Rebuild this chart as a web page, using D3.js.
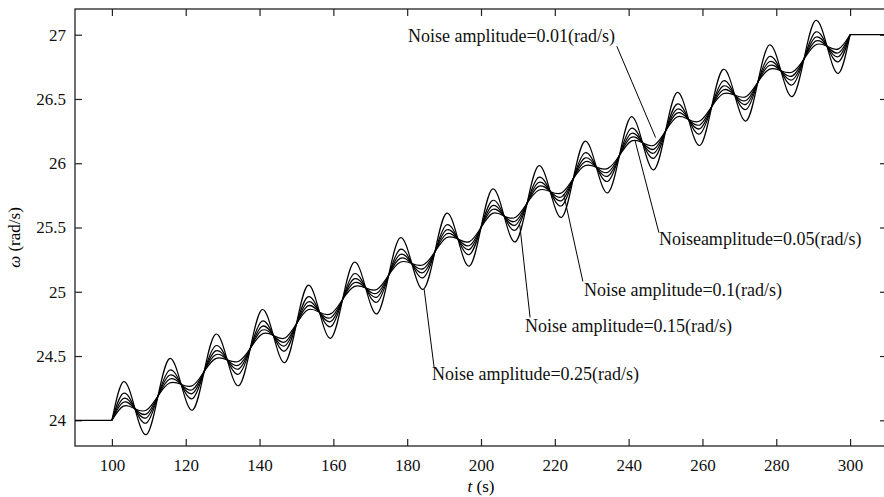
<!DOCTYPE html>
<html>
<head>
<meta charset="utf-8">
<script src="https://d3js.org/d3.v7.min.js"></script>
<style>
  body { margin: 0; background: #fff; }
  svg { display: block; font-family: "Liberation Serif", "Times New Roman", serif; }
</style>
</head>
<body>
<div id="chart"></div>
<script>
// --- data ---
// times where every curve crosses the reference ramp, and ramp values there
var crossT = [100, 106.25, 112.5, 118.75, 125, 131.25, 137.5, 143.75, 150, 156.25, 162.5,
              168.75, 175, 181.25, 187.5, 193.75, 200, 206.25, 212.5, 218.75, 225, 231.25,
              237.5, 243.75, 250, 256.25, 262.5, 268.75, 275, 281.25, 287.5, 293.75, 300];
var crossW = [24.00, 24.09, 24.19, 24.28, 24.38, 24.47, 24.56, 24.66, 24.75, 24.84, 24.94,
              25.03, 25.13, 25.22, 25.31, 25.41, 25.50, 25.59, 25.69, 25.78, 25.88, 25.97,
              26.06, 26.16, 26.25, 26.34, 26.44, 26.53, 26.63, 26.72, 26.81, 26.91, 27.00];
// times of the maxima and minima
var peakT   = [103.1, 115.6, 128.1, 140.6, 153.1, 165.6, 178.1, 190.6, 203.1, 215.6, 228.1, 240.6, 253.1, 265.6, 278.1, 290.6];
var troughT = [109.4, 121.9, 134.4, 146.9, 159.4, 171.9, 184.4, 196.9, 209.4, 221.9, 234.4, 246.9, 259.4, 271.9, 284.4, 296.9];

// flat parts before and after the ramp
var holdBefore = [[90, 24], [100, 24]];
var holdAfter  = [[300, 27], [310, 27]];

// maxima / minima of each of the five curves (largest swing first)
var peaksA   = [24.30, 24.48, 24.67, 24.86, 25.05, 25.23, 25.42, 25.61, 25.80, 25.98, 26.17, 26.36, 26.55, 26.73, 26.92, 27.11];
var troughsA = [23.89, 24.08, 24.27, 24.45, 24.64, 24.83, 25.02, 25.20, 25.39, 25.58, 25.77, 25.95, 26.14, 26.33, 26.52, 26.70];
var peaksB   = [24.21, 24.39, 24.58, 24.77, 24.96, 25.14, 25.33, 25.52, 25.71, 25.89, 26.08, 26.27, 26.46, 26.64, 26.83, 27.02];
var troughsB = [23.98, 24.17, 24.36, 24.54, 24.73, 24.92, 25.11, 25.29, 25.48, 25.67, 25.86, 26.04, 26.23, 26.42, 26.61, 26.79];
var peaksC   = [24.17, 24.35, 24.54, 24.73, 24.92, 25.10, 25.29, 25.48, 25.67, 25.85, 26.04, 26.23, 26.42, 26.60, 26.79, 26.98];
var troughsC = [24.02, 24.21, 24.40, 24.58, 24.77, 24.96, 25.15, 25.33, 25.52, 25.71, 25.90, 26.08, 26.27, 26.46, 26.65, 26.83];
var peaksD   = [24.14, 24.32, 24.51, 24.70, 24.89, 25.07, 25.26, 25.45, 25.64, 25.82, 26.01, 26.20, 26.39, 26.57, 26.76, 26.95];
var troughsD = [24.05, 24.24, 24.43, 24.61, 24.80, 24.99, 25.18, 25.36, 25.55, 25.74, 25.93, 26.11, 26.30, 26.49, 26.68, 26.86];
var peaksE   = [24.11, 24.29, 24.48, 24.67, 24.86, 25.04, 25.23, 25.42, 25.61, 25.79, 25.98, 26.17, 26.36, 26.54, 26.73, 26.92];
var troughsE = [24.08, 24.27, 24.46, 24.64, 24.83, 25.02, 25.21, 25.39, 25.58, 25.77, 25.96, 26.14, 26.33, 26.52, 26.71, 26.89];

var xTicks = [100, 120, 140, 160, 180, 200, 220, 240, 260, 280, 300];
var yTicks = [24, 24.5, 25, 25.5, 26, 26.5, 27];

var noiseLabels = ["Noise amplitude=0.01(rad/s)", "Noiseamplitude=0.05(rad/s)",
                   "Noise amplitude=0.1(rad/s)", "Noise amplitude=0.15(rad/s)",
                   "Noise amplitude=0.25(rad/s)"];

// --- layout ---
var width = 884, height = 497;
var margin = {top: 9, left: 75};
var plotW = 812, plotH = 437;

// where each label sits and where its leader line points (in data units)
var labelLayout = [
  {tx: 180.2, tw: 26.94, from: [236.8, 26.91], to: [247.3, 26.20]},
  {tx: 248.2, tw: 25.36, from: [248.2, 25.46], to: [241.7, 26.18]},
  {tx: 227.9, tw: 24.97, from: [227.6, 25.08], to: [222.4, 25.76]},
  {tx: 211.9, tw: 24.69, from: [213.3, 24.80], to: [210.5, 25.52]},
  {tx: 186.7, tw: 24.31, from: [187.3, 24.41], to: [184.6, 25.02]}
];

var svg = d3.select("#chart").append("svg")
    .attr("width", width)
    .attr("height", height);

var x = d3.scaleLinear().domain([90, 310]).range([margin.left, margin.left + plotW]);
var y = d3.scaleLinear().domain([23.8, 27.2]).range([margin.top + plotH, margin.top]);

// axes, ticks pointing inwards on all four sides
var axBottom = svg.append("g")
    .attr("transform", "translate(0," + (margin.top + plotH) + ")")
    .call(d3.axisBottom(x).tickValues(xTicks).tickSizeInner(-7).tickSizeOuter(0).tickPadding(13));
var axLeft = svg.append("g")
    .attr("transform", "translate(" + margin.left + ",0)")
    .call(d3.axisLeft(y).tickValues(yTicks).tickFormat(d3.format("")).tickSizeInner(-7).tickSizeOuter(0).tickPadding(9));
var axTop = svg.append("g")
    .attr("transform", "translate(0," + margin.top + ")")
    .call(d3.axisTop(x).tickValues(xTicks).tickSizeInner(-7).tickSizeOuter(0).tickFormat(""));
var axRight = svg.append("g")
    .attr("transform", "translate(" + (margin.left + plotW) + ",0)")
    .call(d3.axisRight(y).tickValues(yTicks).tickSizeInner(-7).tickSizeOuter(0).tickFormat(""));

[axBottom, axLeft, axTop, axRight].forEach(function(g) {
  g.select(".domain").remove();
  g.attr("font-family", null).attr("font-size", null);
  g.selectAll("line").attr("stroke", "#222").attr("stroke-width", 1.2);
  g.selectAll("text").attr("font-size", 17).attr("fill", "#111");
});

svg.append("rect")
    .attr("x", margin.left).attr("y", margin.top)
    .attr("width", plotW).attr("height", plotH)
    .attr("fill", "none").attr("stroke", "#222").attr("stroke-width", 1.3);

// curves
var curves = [
  {peaks: peaksA, troughs: troughsA},
  {peaks: peaksB, troughs: troughsB},
  {peaks: peaksC, troughs: troughsC},
  {peaks: peaksD, troughs: troughsD},
  {peaks: peaksE, troughs: troughsE}
];

function buildPoints(c) {
  var pts = [];
  for (var k = 0; k < peakT.length; k++) {
    pts.push([crossT[2 * k], crossW[2 * k]]);
    pts.push([peakT[k], c.peaks[k]]);
    pts.push([crossT[2 * k + 1], crossW[2 * k + 1]]);
    pts.push([troughT[k], c.troughs[k]]);
  }
  pts.push([crossT[crossT.length - 1], crossW[crossW.length - 1]]);
  return pts;
}

var wave = d3.line()
    .x(function(d) { return x(d[0]); })
    .y(function(d) { return y(d[1]); })
    .curve(d3.curveNatural);
var flat = d3.line()
    .x(function(d) { return x(d[0]); })
    .y(function(d) { return y(d[1]); });

var lines = svg.append("g")
    .attr("fill", "none")
    .attr("stroke", "#000")
    .attr("stroke-width", 1.2);

curves.forEach(function(c) {
  lines.append("path").attr("d", wave(buildPoints(c)));
});
lines.append("path").attr("d", flat(holdBefore));
lines.append("path").attr("d", flat(holdAfter));

// annotations
var notes = svg.append("g");
labelLayout.forEach(function(l, i) {
  notes.append("line")
      .attr("x1", x(l.from[0])).attr("y1", y(l.from[1]))
      .attr("x2", x(l.to[0])).attr("y2", y(l.to[1]))
      .attr("stroke", "#000").attr("stroke-width", 1);
  notes.append("text")
      .attr("x", x(l.tx)).attr("y", y(l.tw))
      .attr("font-size", 18)
      .attr("fill", "#111")
      .text(noiseLabels[i]);
});

// axis titles
var xt = svg.append("text")
    .attr("x", x(200)).attr("y", 492)
    .attr("text-anchor", "middle")
    .attr("font-size", 17);
xt.append("tspan").attr("font-style", "italic").text("t");
xt.append("tspan").text(" (s)");

var yt = svg.append("text")
    .attr("transform", "translate(20," + (margin.top + plotH / 2 + 10) + ") rotate(-90)")
    .attr("text-anchor", "middle")
    .attr("font-size", 17);
yt.append("tspan").attr("font-style", "italic").text("ω");
yt.append("tspan").text(" (rad/s)");
</script>
</body>
</html>
